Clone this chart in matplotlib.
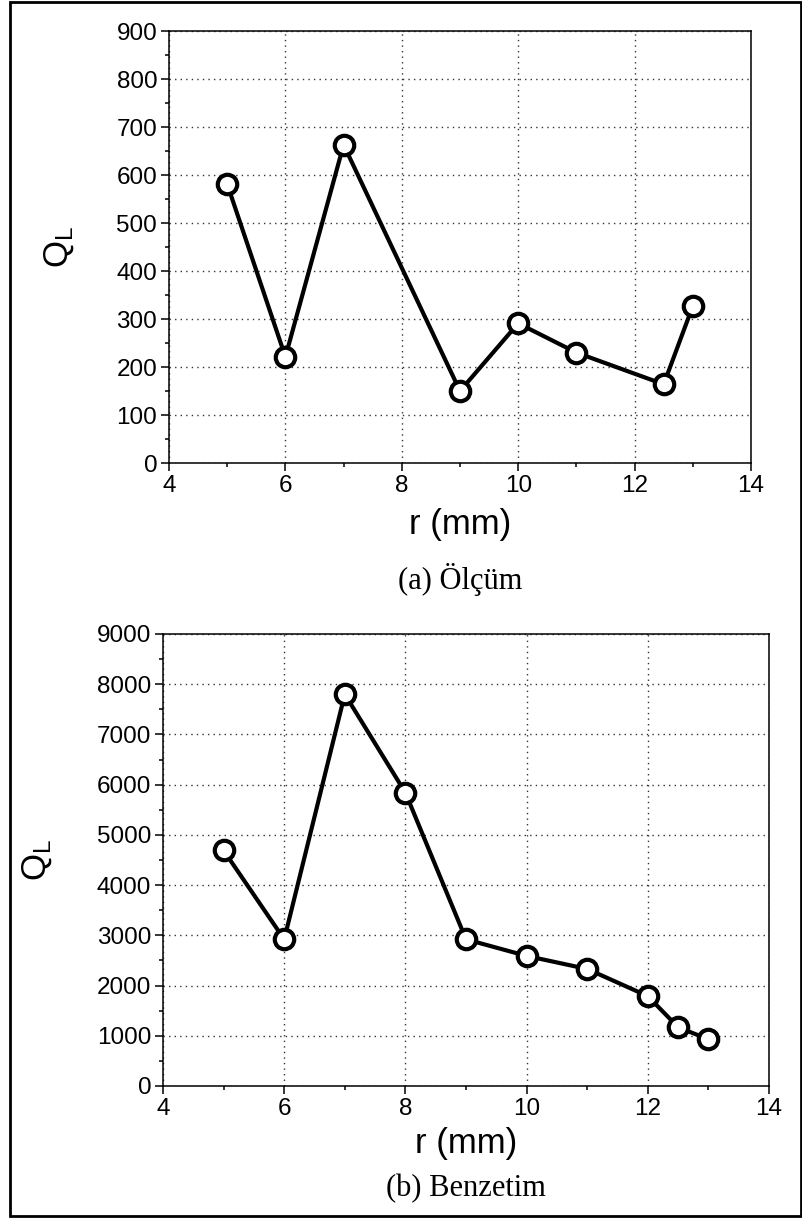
import matplotlib
matplotlib.use('Agg')
import matplotlib.pyplot as plt
from matplotlib.patches import Rectangle
from matplotlib.ticker import MultipleLocator

# (a) Ölçüm
r_olcum = [5, 6, 7, 9, 10, 11, 12.5, 13]
q_olcum = [581, 221, 663, 150, 291, 230, 164, 327]

# (b) Benzetim
r_benz = [5, 6, 7, 8, 9, 10, 11, 12, 12.5, 13]
q_benz = [4690, 2920, 7800, 5840, 2920, 2590, 2330, 1790, 1170, 930]

plt.rcParams['font.family'] = ['Liberation Sans', 'DejaVu Sans']
plt.rcParams['mathtext.default'] = 'regular'

W, H = 803, 1218
fig = plt.figure(figsize=(W / 100, H / 100), dpi=100)

# rahmen
fig.patches.append(Rectangle((10 / W, 2 / H), 791 / W, 1214 / H, transform=fig.transFigure,
                             fill=False, edgecolor='black', linewidth=2, zorder=0))


def ciz(ax, x, y, ymax, ystep, ylab_x, caption, cap_y, xlab_pad):
    ax.plot(x, y, color='black', linewidth=3, marker='o', markersize=14,
            markerfacecolor='white', markeredgecolor='black', markeredgewidth=3,
            zorder=3, clip_on=False)
    ax.set_xlim(4, 14)
    ax.set_ylim(0, ymax)
    ax.xaxis.set_major_locator(MultipleLocator(2))
    ax.xaxis.set_minor_locator(MultipleLocator(1))
    ax.yaxis.set_major_locator(MultipleLocator(ystep))
    ax.yaxis.set_minor_locator(MultipleLocator(ystep / 2))
    ax.grid(True, which='major', linestyle=(0, (1, 3)), color='#333333', linewidth=1)
    ax.tick_params(which='major', direction='out', length=5.5, width=1.1,
                   labelsize=17.5, top=False, right=False, pad=3)
    ax.tick_params(which='minor', direction='out', length=2.8, width=1.1, top=False, right=False)
    for s in ax.spines.values():
        s.set_linewidth(1.1)
    ax.set_xlabel('r (mm)', fontsize=25, labelpad=xlab_pad)
    ax.set_ylabel('Q$_L$', fontsize=25)
    ax.yaxis.set_label_coords(ylab_x, 0.5)
    pos = ax.get_position()
    fig.text(0.5 * (pos.x0 + pos.x1), 1 - cap_y / H, caption,
             ha='center', va='center', fontsize=22, family=['Liberation Serif', 'DejaVu Serif'])


ax1 = fig.add_axes([169 / W, 1 - 463 / H, 582 / W, 432 / H])
ciz(ax1, r_olcum, q_olcum, 900, 100, -0.16, '(a) Ölçüm', 580, 8)

ax2 = fig.add_axes([163 / W, 1 - 1086 / H, 606 / W, 452 / H])
ciz(ax2, r_benz, q_benz, 9000, 1000, -0.18, '(b) Benzetim', 1189, 5)

fig.savefig('out.png', dpi=100)
